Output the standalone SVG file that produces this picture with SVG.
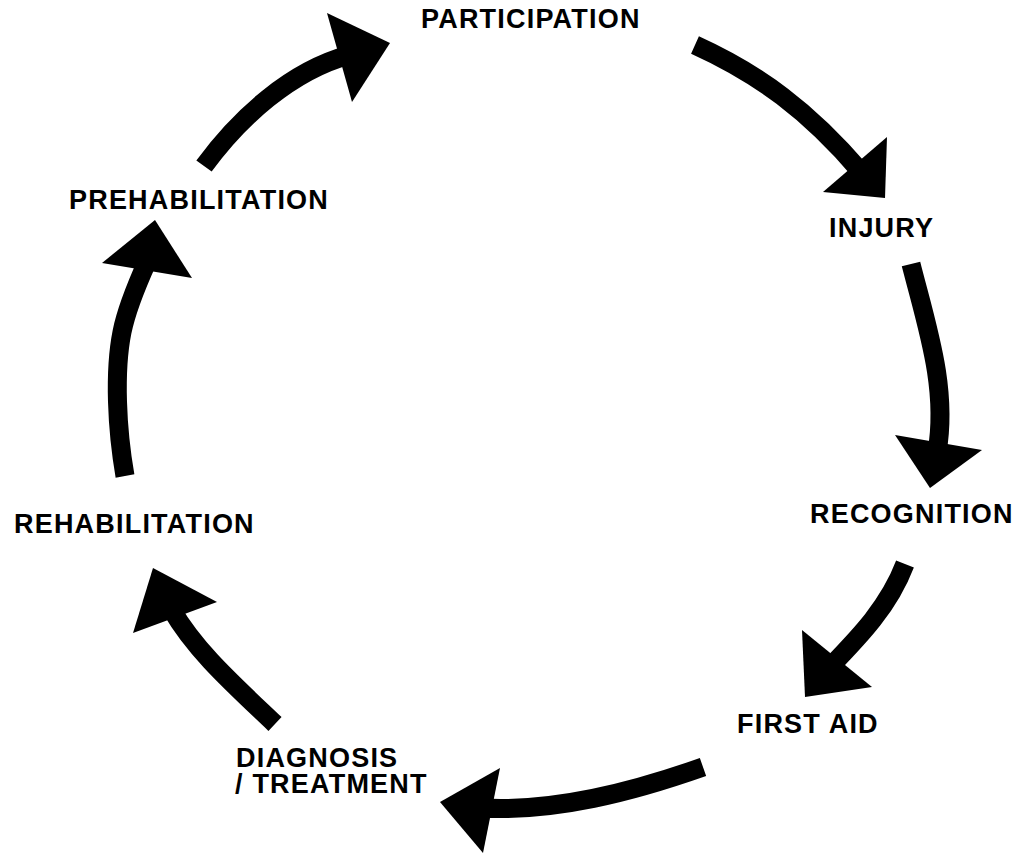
<svg xmlns="http://www.w3.org/2000/svg" width="1015" height="854" viewBox="0 0 1015 854">
<style>
.lbl{font-family:"Liberation Sans",Arial,sans-serif;font-weight:bold;font-size:27px;letter-spacing:1.2px;fill:#000}
.shaft{fill:none;stroke:#000;stroke-width:19;stroke-linecap:butt}
.head{fill:#000;stroke:none}
</style>
<rect width="1015" height="854" fill="#fff"/>
<g id="connectors">
<g id="a1"><path class="shaft" d="M204,166 C240,117 291,71 349,55"/><polygon class="head" points="327,13 390,43 352,102"/></g>
<g id="a2"><path class="shaft" d="M695,45 C759,74 809,111 861,172"/><polygon class="head" points="823,192 887,137 885,198"/></g>
<g id="a3"><path class="shaft" d="M911,264 C927,327 948,388 937,452"/><polygon class="head" points="895,435 982,450 930,488"/></g>
<g id="a4"><path class="shaft" d="M905,564 C889,606 860,636 831,666"/><polygon class="head" points="802,630 872,687 805,697"/></g>
<g id="a5"><path class="shaft" d="M703,767 C632,792 555,812 482,808"/><polygon class="head" points="500,768 483,853 440,802"/></g>
<g id="a6"><path class="shaft" d="M275,724 C232,683 195,650 172,610"/><polygon class="head" points="217,602 133,633 153,568"/></g>
<g id="a7"><path class="shaft" d="M125,476 C117,430 114,372 122,332 C126,312 138,282 147,262"/><polygon class="head" points="102,263 155,220 192,278"/></g>
</g>
<g id="participation"><text class="lbl" x="421" y="28">PARTICIPATION</text></g>
<g id="injury"><text class="lbl" x="829" y="237">INJURY</text></g>
<g id="recognition"><text class="lbl" x="810" y="523">RECOGNITION</text></g>
<g id="first-aid"><text class="lbl" x="737" y="733">FIRST AID</text></g>
<g id="diagnosis"><text class="lbl" x="236" y="767">DIAGNOSIS</text><text class="lbl" x="235" y="793">/ TREATMENT</text></g>
<g id="rehabilitation"><text class="lbl" x="14" y="533">REHABILITATION</text></g>
<g id="prehabilitation"><text class="lbl" x="69" y="209">PREHABILITATION</text></g>
</svg>
